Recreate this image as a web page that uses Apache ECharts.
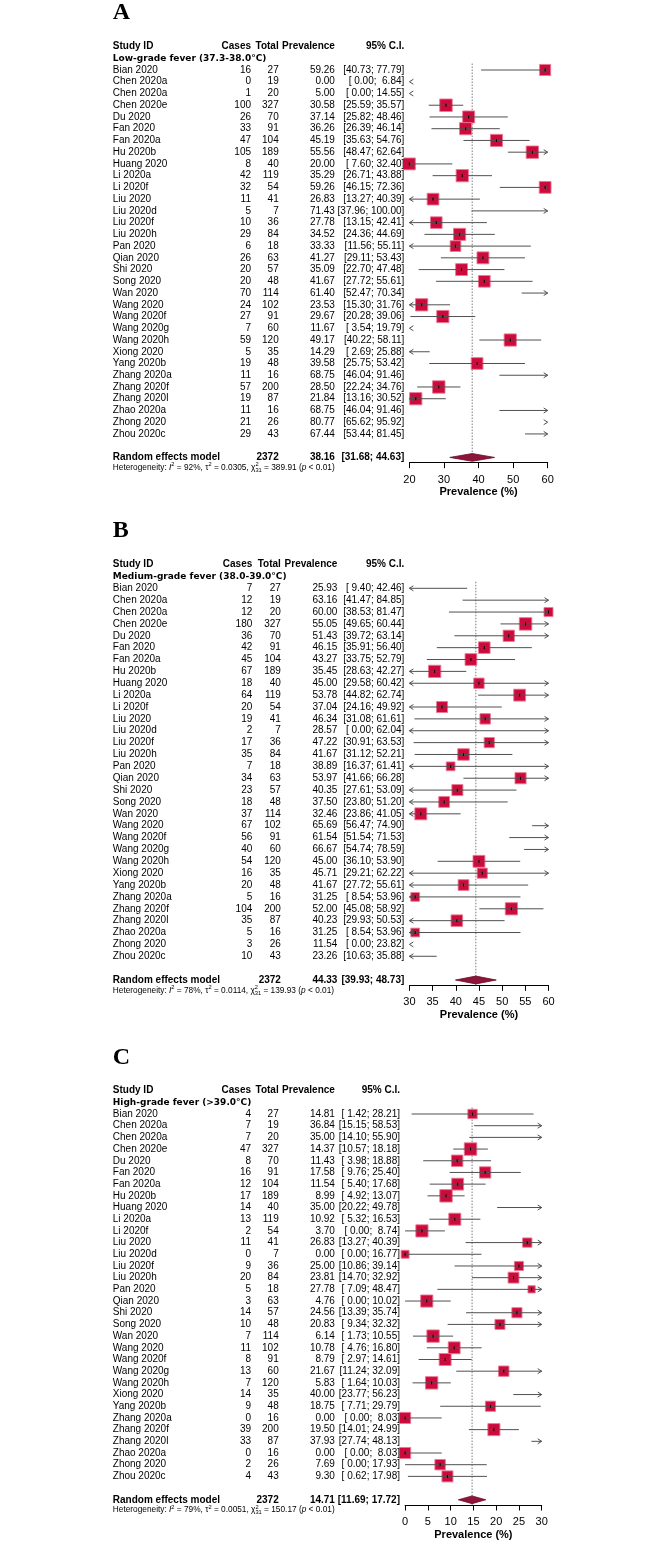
<!DOCTYPE html>
<html><head><meta charset="utf-8">
<script src="https://cdn.jsdelivr.net/npm/echarts@6/dist/echarts.min.js"></script>
<style>html,body{margin:0;padding:0;background:#fff}#c{width:666px;height:1542px}</style>
</head><body><div id="c"></div>
<script>
// ---------------- DATA ----------------
const studies = ["Bian 2020","Chen 2020a","Chen 2020a","Chen 2020e","Du 2020","Fan 2020","Fan 2020a","Hu 2020b","Huang 2020","Li 2020a","Li 2020f","Liu 2020","Liu 2020d","Liu 2020f","Liu 2020h","Pan 2020","Qian 2020","Shi 2020","Song 2020","Wan 2020","Wang 2020","Wang 2020f","Wang 2020g","Wang 2020h","Xiong 2020","Yang 2020b","Zhang 2020a","Zhang 2020f","Zhang 2020l","Zhao 2020a","Zhong 2020","Zhou 2020c"];

// A: Low-grade fever
const casesA = [16,0,1,100,26,33,47,105,8,42,32,11,5,10,29,6,26,20,20,70,24,27,7,59,5,19,11,57,19,11,21,29];
const totalA = [27,19,20,327,70,91,104,189,40,119,54,41,7,36,84,18,63,57,48,114,102,91,60,120,35,48,16,200,87,16,26,43];
const prevA  = [59.26,0.00,5.00,30.58,37.14,36.26,45.19,55.56,20.00,35.29,59.26,26.83,71.43,27.78,34.52,33.33,41.27,35.09,41.67,61.40,23.53,29.67,11.67,49.17,14.29,39.58,68.75,28.50,21.84,68.75,80.77,67.44];
const lowerA = [40.73,0.00,0.00,25.59,25.82,26.39,35.63,48.47,7.60,26.71,46.15,13.27,37.96,13.15,24.36,11.56,29.11,22.70,27.72,52.47,15.30,20.28,3.54,40.22,2.69,25.75,46.04,22.24,13.16,46.04,65.62,53.44];
const upperA = [77.79,6.84,14.55,35.57,48.46,46.14,54.76,62.64,32.40,43.88,72.36,40.39,100.00,42.41,44.69,55.11,53.43,47.48,55.61,70.34,31.76,39.06,19.79,58.11,25.88,53.42,91.46,34.76,30.52,91.46,95.92,81.45];

// B: Medium-grade fever
const casesB = [7,12,12,180,36,42,45,67,18,64,20,19,2,17,35,7,34,23,18,37,67,56,40,54,16,20,5,104,35,5,3,10];
const totalB = [27,19,20,327,70,91,104,189,40,119,54,41,7,36,84,18,63,57,48,114,102,91,60,120,35,48,16,200,87,16,26,43];
const prevB  = [25.93,63.16,60.00,55.05,51.43,46.15,43.27,35.45,45.00,53.78,37.04,46.34,28.57,47.22,41.67,38.89,53.97,40.35,37.50,32.46,65.69,61.54,66.67,45.00,45.71,41.67,31.25,52.00,40.23,31.25,11.54,23.26];
const lowerB = [9.40,41.47,38.53,49.65,39.72,35.91,33.75,28.63,29.58,44.82,24.16,31.08,0.00,30.91,31.12,16.37,41.66,27.61,23.80,23.86,56.47,51.54,54.74,36.10,29.21,27.72,8.54,45.08,29.93,8.54,0.00,10.63];
const upperB = [42.46,84.85,81.47,60.44,63.14,56.40,52.79,42.27,60.42,62.74,49.92,61.61,62.04,63.53,52.21,61.41,66.28,53.09,51.20,41.05,74.90,71.53,78.59,53.90,62.22,55.61,53.96,58.92,50.53,53.96,23.82,35.88];

// C: High-grade fever
const casesC = [4,7,7,47,8,16,12,17,14,13,2,11,0,9,20,5,3,14,10,7,11,8,13,7,14,9,0,39,33,0,2,4];
const totalC = [27,19,20,327,70,91,104,189,40,119,54,41,7,36,84,18,63,57,48,114,102,91,60,120,35,48,16,200,87,16,26,43];
const prevC  = [14.81,36.84,35.00,14.37,11.43,17.58,11.54,8.99,35.00,10.92,3.70,26.83,0.00,25.00,23.81,27.78,4.76,24.56,20.83,6.14,10.78,8.79,21.67,5.83,40.00,18.75,0.00,19.50,37.93,0.00,7.69,9.30];
const lowerC = [1.42,15.15,14.10,10.57,3.98,9.76,5.40,4.92,20.22,5.32,0.00,13.27,0.00,10.86,14.70,7.09,0.00,13.39,9.34,1.73,4.76,2.97,11.24,1.64,23.77,7.71,0.00,14.01,27.74,0.00,0.00,0.62];
const upperC = [28.21,58.53,55.90,18.18,18.88,25.40,17.68,13.07,49.78,16.53,8.74,40.39,16.77,39.14,32.92,48.47,10.02,35.74,32.32,10.55,16.80,14.61,32.09,10.03,56.23,29.79,8.03,24.99,48.13,8.03,17.93,17.98];

// pooled (random effects model) and heterogeneity
const panelLetters   = ["A","B","C"];
const subgroupTitles = ["Low-grade fever (37.3-38.0°C)","Medium-grade fever (38.0-39.0°C)","High-grade fever (>39.0°C)"];
const pooledTotal = [2372,2372,2372];
const pooledPrev  = [38.16,44.33,14.71];
const pooledLower = [31.68,39.93,11.69];
const pooledUpper = [44.63,48.73,17.72];
const hetI2   = [92,78,79];
const hetTau2 = [0.0305,0.0114,0.0051];
const hetChi2 = [389.91,139.93,150.17];
const hetDf   = [31,31,31];
const hetP    = ["0.01","0.01","0.01"];

// axes
const axisMin  = [20,30,0];
const axisMax  = [60,60,30];
const axisStep = [10,5,5];
const headerLabels = ["Study ID","Cases","Total","Prevalence","95% C.I."];

// ---------------- LAYOUT / STYLE ----------------
const layout = [
  {gl:409.4, gr:547.7, row0:70,    rowH:11.74, cName:112.8, cCases:251,   cTotal:278.7, cPrev:334.9, cCI:404.3},
  {gl:409.4, gr:548.5, row0:588.3, rowH:11.87, cName:112.8, cCases:252.3, cTotal:280.9, cPrev:337.4, cCI:404.3},
  {gl:405.1, gr:541.7, row0:1114,  rowH:11.69, cName:112.8, cCases:251,   cTotal:278.7, cPrev:334.9, cCI:400}
];
const ROW_MIN = -3, ROW_MAX = 33.45;
const ROW_HEADER = -2, ROW_SUB = -1, ROW_POOL = 33, ROW_HET = 33.88, ROW_LETTER = -4.85, ROW_REF_TOP = -0.55;
const FONT = '"Liberation Sans", Arial, Helvetica, sans-serif';
const F_REG = '10px ' + FONT, F_BOLD = 'bold 10px ' + FONT;
const F_SUB = 'bold 9px "DejaVu Sans", Verdana, sans-serif';
const F_LET = 'bold 24px "Liberation Serif", "Times New Roman", serif';
const SQ_FILL = '#CC0A3C', SQ_STROKE = 'rgba(236,120,145,0.9)', CI_COLOR = '#505050';
const DIA_FILL = '#8E1539', DIA_STROKE = '#6a0d28';
const MAX_BOX = 12.5;

const panels = [
  {cases:casesA,total:totalA,prev:prevA,lower:lowerA,upper:upperA},
  {cases:casesB,total:totalB,prev:prevB,lower:lowerB,upper:upperB},
  {cases:casesC,total:totalC,prev:prevC,lower:lowerC,upper:upperC}
];

// random-effects weight -> box size (area proportional to weight)
function reWeight(k, i) {
  const P = panels[k];
  const c = P.cases[i], n = P.total[i];
  let p = c / n;
  if (c === 0 || c === n) p = (c + 0.5) / (n + 1);
  return 1 / (p * (1 - p) / n + hetTau2[k]);
}
const maxW = panels.map((P, k) => Math.max(...P.total.map((_, i) => reWeight(k, i))));
function boxSize(k, i) { return MAX_BOX * Math.sqrt(reWeight(k, i) / maxW[k]); }

const mctx = document.createElement('canvas').getContext('2d');
function tw(t, f) { mctx.font = f; return mctx.measureText(t).width; }

function txt(x, y, t, font, align) {
  return {type:'text', x:x, y:y, silent:true,
    style:{text:t, font:font, fill:'#000', align:align||'left', verticalAlign:'middle',
           textAlign:align||'left', textVerticalAlign:'middle'}};
}
function pad5(v) { return v.toFixed(2).padStart(5, ' '); }
function ciText(lo, hi) { return '[' + pad5(lo) + '; ' + pad5(hi) + ']'; }
function arrow(x, y, dir) {
  return {type:'polyline', shape:{points:[[x - dir*4, y - 2.5],[x, y],[x - dir*4, y + 2.5]]},
          style:{stroke:CI_COLOR, lineWidth:1, fill:null}};
}

const grids = [], xAxes = [], yAxes = [], series = [];
panels.forEach((P, k) => {
  const L = layout[k];
  const mn = axisMin[k], mx = axisMax[k];
  grids.push({left:L.gl, width:L.gr - L.gl, top:L.row0 + ROW_MIN*L.rowH, height:(ROW_MAX - ROW_MIN)*L.rowH});
  xAxes.push({gridIndex:k, type:'value', min:mn, max:mx, interval:axisStep[k], position:'bottom',
    name:'Prevalence (%)', nameLocation:'middle', nameGap:24,
    nameTextStyle:{fontFamily:FONT, fontWeight:'bold', fontSize:11, color:'#000'},
    axisLine:{onZero:false, lineStyle:{color:'#000', width:1}},
    axisTick:{length:5.5, lineStyle:{color:'#000', width:1}},
    axisLabel:{fontFamily:FONT, fontSize:11, color:'#000', margin:11.5},
    splitLine:{show:false}});
  yAxes.push({gridIndex:k, type:'value', inverse:true, min:ROW_MIN, max:ROW_MAX, show:false});

  // reference dotted line at pooled estimate
  series.push({type:'custom', xAxisIndex:k, yAxisIndex:k, z:1, silent:true,
    data:[[pooledPrev[k], ROW_POOL]],
    renderItem:(params, api) => {
      const t = api.coord([pooledPrev[k], ROW_REF_TOP]), b = api.coord([pooledPrev[k], ROW_MAX]);
      return {type:'line', shape:{x1:t[0], y1:t[1], x2:b[0], y2:b[1]},
              style:{stroke:'#7a7a7a', lineWidth:1, lineDash:[1.5,1.5]}};
    }});

  // study boxes + confidence intervals
  series.push({type:'custom', xAxisIndex:k, yAxisIndex:k, z:3, silent:true,
    data:studies.map((s, i) => [P.prev[i], i]),
    renderItem:(params, api) => {
      const i = params.dataIndex;
      const est = P.prev[i], lo = P.lower[i], hi = P.upper[i];
      const y = api.coord([mn, i])[1];
      const xMin = api.coord([mn, i])[0], xMax = api.coord([mx, i])[0];
      const ch = [];
      const inRange = est >= mn && est <= mx;
      if (inRange) {
        const s = boxSize(k, i), cx = api.coord([est, i])[0];
        ch.push({type:'rect', shape:{x:cx - s/2, y:y - s/2, width:s, height:s},
                 style:{fill:SQ_FILL, stroke:SQ_STROKE, lineWidth:1}});
      }
      const ls = {stroke:CI_COLOR, lineWidth:1};
      if (hi < mn) ch.push(arrow(xMin, y, -1));
      else if (lo > mx) ch.push(arrow(xMax, y, 1));
      else {
        const x1 = api.coord([Math.max(lo, mn), i])[0], x2 = api.coord([Math.min(hi, mx), i])[0];
        ch.push({type:'line', shape:{x1:x1, y1:y, x2:x2, y2:y}, style:ls});
        if (lo < mn) ch.push(arrow(xMin, y, -1));
        if (hi > mx) ch.push(arrow(xMax, y, 1));
        if (inRange) {
          const cx = api.coord([est, i])[0];
          ch.push({type:'line', shape:{x1:cx, y1:y - 1.5, x2:cx, y2:y + 1.5}, style:{stroke:'#000', lineWidth:1}});
        }
      }
      return {type:'group', children:ch};
    }});

  // pooled diamond
  series.push({type:'custom', xAxisIndex:k, yAxisIndex:k, z:4, silent:true,
    data:[[pooledPrev[k], ROW_POOL]],
    renderItem:(params, api) => {
      const c = api.coord([pooledPrev[k], ROW_POOL]);
      const l = api.coord([pooledLower[k], ROW_POOL]), u = api.coord([pooledUpper[k], ROW_POOL]);
      const h = 0.33 * L.rowH;
      return {type:'polygon', shape:{points:[[l[0], c[1]],[c[0], c[1] - h],[u[0], c[1]],[c[0], c[1] + h]]},
              style:{fill:DIA_FILL, stroke:DIA_STROKE, lineWidth:0.8}};
    }});

  // study table text
  series.push({type:'custom', xAxisIndex:k, yAxisIndex:k, z:5, silent:true,
    data:studies.map((s, i) => [mn, i]),
    renderItem:(params, api) => {
      const i = params.dataIndex;
      const y = api.coord([mn, i])[1];
      return {type:'group', children:[
        txt(L.cName, y, studies[i], F_REG, 'left'),
        txt(L.cCases, y, String(P.cases[i]), F_REG, 'right'),
        txt(L.cTotal, y, String(P.total[i]), F_REG, 'right'),
        txt(L.cPrev, y, P.prev[i].toFixed(2), F_REG, 'right'),
        txt(L.cCI, y, ciText(P.lower[i], P.upper[i]), F_REG, 'right')
      ]};
    }});

  // headers, subgroup title, pooled row, heterogeneity, panel letter
  series.push({type:'custom', xAxisIndex:k, yAxisIndex:k, z:5, silent:true,
    data:[[mn, 0]],
    renderItem:(params, api) => {
      const yr = r => api.coord([mn, r])[1];
      const ch = [];
      ch.push(txt(L.cName, yr(ROW_LETTER), panelLetters[k], F_LET, 'left'));
      const yh = yr(ROW_HEADER);
      ch.push(txt(L.cName, yh, headerLabels[0], F_BOLD, 'left'));
      ch.push(txt(L.cCases, yh, headerLabels[1], F_BOLD, 'right'));
      ch.push(txt(L.cTotal, yh, headerLabels[2], F_BOLD, 'right'));
      ch.push(txt(L.cPrev, yh, headerLabels[3], F_BOLD, 'right'));
      ch.push(txt(L.cCI, yh, headerLabels[4], F_BOLD, 'right'));
      ch.push(txt(L.cName, yr(ROW_SUB), subgroupTitles[k], F_SUB, 'left'));
      const yp = yr(ROW_POOL);
      ch.push(txt(L.cName, yp, 'Random effects model', F_BOLD, 'left'));
      ch.push(txt(L.cTotal, yp, String(pooledTotal[k]), F_BOLD, 'right'));
      ch.push(txt(L.cPrev, yp, pooledPrev[k].toFixed(2), F_BOLD, 'right'));
      ch.push(txt(L.cCI, yp, ciText(pooledLower[k], pooledUpper[k]), F_BOLD, 'right'));
      // heterogeneity line with super/subscripts
      const yt = yr(ROW_HET);
      const fN = '8.3px ' + FONT, fI = 'italic 8.3px ' + FONT, fS = '5.7px ' + FONT;
      let x = L.cName;
      const put = (t, f, dy) => { ch.push(txt(x, yt + (dy||0), t, f, 'left')); x += tw(t, f); };
      put('Heterogeneity: ', fN);
      put('I', fI);
      put('2', fS, -2.9);
      put(' = ' + hetI2[k] + '%, \u03C4', fN);
      put('2', fS, -2.9);
      put(' = ' + hetTau2[k].toFixed(4) + ', \u03C7', fN);
      const x0 = x;
      ch.push(txt(x0, yt - 2.9, '2', fS, 'left'));
      ch.push(txt(x0, yt + 2.7, String(hetDf[k]), fS, 'left'));
      x = x0 + Math.max(tw('2', fS), tw(String(hetDf[k]), fS));
      put(' = ' + hetChi2[k].toFixed(2) + ' (', fN);
      put('p', fI);
      put(' < ' + hetP[k] + ')', fN);
      return {type:'group', children:ch};
    }});
});

const chart = echarts.init(document.getElementById('c'), null, {renderer:'canvas', width:666, height:1542});
chart.setOption({animation:false, backgroundColor:'#fff', grid:grids, xAxis:xAxes, yAxis:yAxes, series:series});
</script>
</body></html>
